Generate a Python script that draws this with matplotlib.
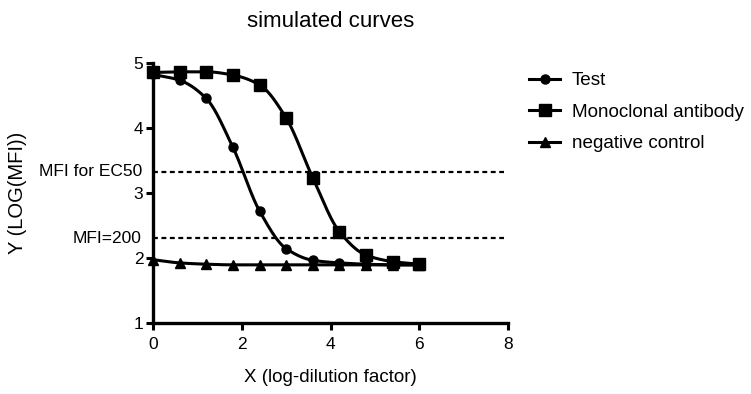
import numpy as np
import matplotlib
matplotlib.use("Agg")
import matplotlib.pyplot as plt

plt.rcParams['font.family'] = ['Liberation Sans', 'DejaVu Sans']

# Log-dilution factor for every sample
dilution = [0.0, 0.6, 1.2, 1.8, 2.4, 3.0, 3.6, 4.2, 4.8, 5.4, 6.0]

# log(MFI) readings per series
test_vals = [4.82, 4.73, 4.45, 3.70, 2.72, 2.14, 1.96, 1.92, 1.90, 1.89, 1.89]
mab_vals = [4.85, 4.86, 4.86, 4.81, 4.66, 4.15, 3.23, 2.40, 2.04, 1.94, 1.90]
neg_vals = [1.97, 1.92, 1.90, 1.89, 1.89, 1.89, 1.89, 1.89, 1.89, 1.89, 1.89]

series_labels = ["Test", "Monoclonal antibody", "negative control"]

# Reference levels
ec50_level = 3.32
mfi200_level = np.log10(200)
ref_labels = ["MFI for EC50", "MFI=200"]

x_ticks = [0, 2, 4, 6, 8]
y_ticks = [1, 2, 3, 4, 5]


def pchip(x, y, xs):
    """Monotone cubic (Fritsch-Carlson) curve through the points."""
    x = np.asarray(x, float)
    y = np.asarray(y, float)
    h = np.diff(x)
    d = np.diff(y) / h
    m = np.zeros_like(y)
    for k in range(1, len(y) - 1):
        if d[k - 1] * d[k] > 0:
            w1 = 2 * h[k] + h[k - 1]
            w2 = h[k] + 2 * h[k - 1]
            m[k] = (w1 + w2) / (w1 / d[k - 1] + w2 / d[k])
    m[0] = d[0]
    m[-1] = d[-1]
    idx = np.clip(np.searchsorted(x, xs) - 1, 0, len(x) - 2)
    t = (xs - x[idx]) / h[idx]
    h00 = 2 * t**3 - 3 * t**2 + 1
    h10 = t**3 - 2 * t**2 + t
    h01 = -2 * t**3 + 3 * t**2
    h11 = t**3 - t**2
    return (h00 * y[idx] + h10 * h[idx] * m[idx]
            + h01 * y[idx + 1] + h11 * h[idx] * m[idx + 1])


fig = plt.figure(figsize=(7.51, 3.94), dpi=100)
ax = fig.add_axes([153 / 751, 1 - 322.7 / 394, 355 / 751, 260 / 394])

xs = np.linspace(dilution[0], dilution[-1], 400)
lw = 2.2
styles = [("o", 6.5), ("s", 8.0), ("^", 7.0)]
for vals, lab, (mk, ms) in zip([test_vals, mab_vals, neg_vals], series_labels, styles):
    ax.plot(xs, pchip(dilution, vals, xs), color="black", lw=lw,
            solid_capstyle="butt", clip_on=False, zorder=3)
    ax.plot(dilution, vals, linestyle="none", marker=mk, ms=ms,
            color="black", clip_on=False, zorder=4)
    ax.plot([], [], color="black", lw=lw, marker=mk, ms=ms, label=lab)

# Dotted reference levels with their labels on the left
for level, txt in zip([ec50_level, mfi200_level], ref_labels):
    ax.plot([0, 7.9], [level, level], color="black", lw=1.6,
            linestyle=(0, (2.2, 1.6)), clip_on=False, zorder=2)
    ax.annotate(txt, xy=(0, level), xycoords=("axes fraction", "data"),
                xytext=(-8, 0), textcoords="offset points",
                ha="right", va="center", fontsize=12.5)

ax.set_xlim(0, 8)
ax.set_ylim(1, 5)
ax.set_xticks(x_ticks)
ax.set_yticks(y_ticks)
for side in ["top", "right"]:
    ax.spines[side].set_visible(False)
for side in ["left", "bottom"]:
    ax.spines[side].set_linewidth(2.4)
    ax.spines[side].set_capstyle("projecting")
ax.tick_params(direction="out", length=5, width=2.2, labelsize=12.5, pad=2)
ax.tick_params(axis="x", pad=5.5)

ax.set_xlabel("X (log-dilution factor)", fontsize=13.5)
ax.xaxis.set_label_coords(0.5, -(378 - 322.7) / 260, transform=ax.transAxes)
ax.xaxis.label.set_va("center")
ax.set_ylabel("Y (LOG(MFI))", fontsize=14.5)
ax.yaxis.set_label_coords((18 - 153) / 355, 0.5, transform=ax.transAxes)
ax.yaxis.label.set_va("center")
ax.set_title("simulated curves", fontsize=16, pad=26)

fig.legend(loc="upper left", bbox_to_anchor=(529 / 751, 1 - 72 / 394),
           frameon=False, fontsize=13.6, handlelength=1.65, handletextpad=0.6,
           labelspacing=0.76, borderpad=0, borderaxespad=0)

fig.savefig("out.png", dpi=100)
